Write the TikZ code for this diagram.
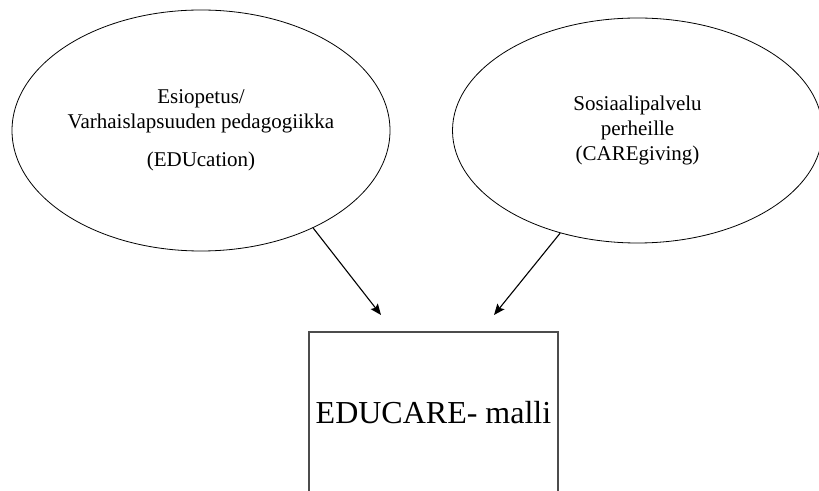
\documentclass[tikz,border=0pt]{standalone}
\usepackage{fontspec}
\setmainfont{Liberation Serif}
\usetikzlibrary{shapes.geometric,arrows.meta}
\begin{document}
\begin{tikzpicture}[x=1pt,y=1pt,
  bubble/.style={draw=black,line width=0.8pt,ellipse,inner sep=0pt,align=center,
    font=\fontsize{21}{25}\selectfont},
  modelbox/.style={draw=black!70,line width=1.2pt,rectangle,inner sep=0pt,
    font=\fontsize{32}{36}\selectfont},
  link/.style={line width=1.1pt,-{Stealth[length=11pt,width=9pt,inset=2pt]}}]
\useasboundingbox (0,0) rectangle (819,490);
\clip (0,0) rectangle (819,490);
\node[bubble,minimum width=378pt,minimum height=241pt] (L) at (201,359.5)
  {Esiopetus/\\Varhaislapsuuden pedagogiikka\\[13pt](EDUcation)};
\node[bubble,minimum width=370pt,minimum height=225pt] (R) at (637.5,359.5)
  {Sosiaalipalvelu\\perheille\\(CAREgiving)};
\node[modelbox,minimum width=249pt,minimum height=162pt] (B) at (433.5,77)
  {EDUCARE- malli};
\coordinate (t1) at (381,175);
\coordinate (t2) at (494,175);
\draw[link] (L.-41.8) -- (t1);
\draw[link] (R.-127.3) -- (t2);
\end{tikzpicture}
\end{document}
